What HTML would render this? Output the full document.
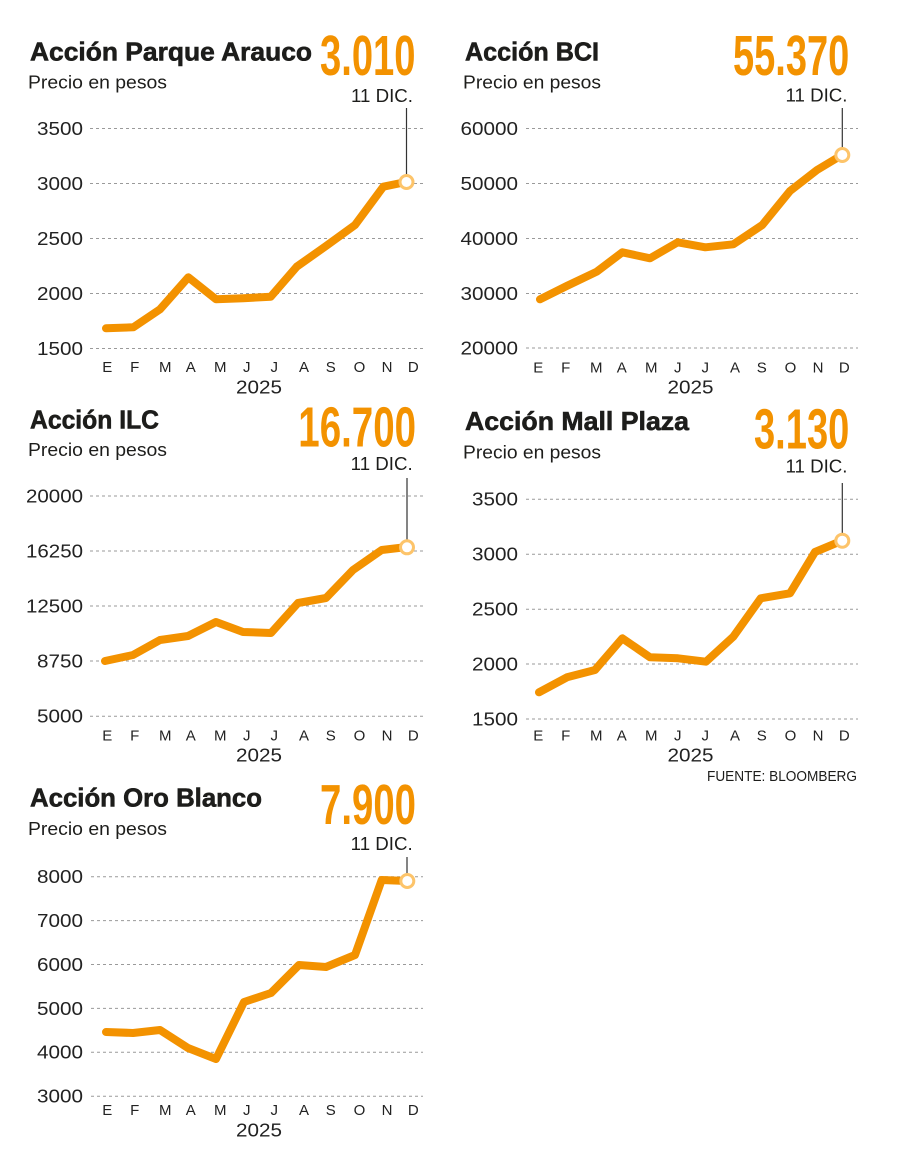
<!DOCTYPE html>
<html>
<head>
<meta charset="utf-8">
<style>
  html,body{margin:0;padding:0;background:#fff;}
  svg{display:block;}
  text{font-family:"Liberation Sans",Arial,sans-serif;fill:#1d1d1b;}
  .t{font-weight:bold;font-size:26px;stroke:#1d1d1b;stroke-width:0.6;}
  .s{font-size:18.5px;}
  .big{font-weight:bold;font-size:57px;fill:#F39200;}
  .dic{font-size:18px;}
  .tk{font-size:18px;fill:#222;}
  .mo{font-size:15px;fill:#222;}
  .yr{font-size:18px;fill:#222;}
  .g{stroke:#9a9a9a;stroke-width:1;stroke-dasharray:3,3;}
  .ln{fill:none;stroke:#F39200;stroke-width:8;stroke-linejoin:round;stroke-linecap:round;}
  .vl{stroke:#333;stroke-width:1.2;}
  .dot{fill:#fff;stroke:#FDC46A;stroke-width:3;}
</style>
</head>
<body>
<svg width="900" height="1173" viewBox="0 0 900 1173" xmlns="http://www.w3.org/2000/svg">

<!-- ============ Chart 1: Parque Arauco ============ -->
<text class="t" x="30" y="60.7" textLength="282" lengthAdjust="spacingAndGlyphs">Acción Parque Arauco</text>
<text class="s" x="28" y="88.3" textLength="139" lengthAdjust="spacingAndGlyphs">Precio en pesos</text>
<text class="big" x="320" y="75" textLength="95.5" lengthAdjust="spacingAndGlyphs">3.010</text>
<text class="dic" x="351" y="102" textLength="62" lengthAdjust="spacingAndGlyphs">11 DIC.</text>
<g>
  <line class="g" x1="90" y1="128.5" x2="423" y2="128.5"/>
  <line class="g" x1="90" y1="183.5" x2="423" y2="183.5"/>
  <line class="g" x1="90" y1="238.5" x2="423" y2="238.5"/>
  <line class="g" x1="90" y1="293.5" x2="423" y2="293.5"/>
  <line class="g" x1="90" y1="348.5" x2="423" y2="348.5"/>
  <text class="tk" x="37" y="134.9" textLength="46" lengthAdjust="spacingAndGlyphs">3500</text>
  <text class="tk" x="37" y="189.9" textLength="46" lengthAdjust="spacingAndGlyphs">3000</text>
  <text class="tk" x="37" y="244.9" textLength="46" lengthAdjust="spacingAndGlyphs">2500</text>
  <text class="tk" x="37" y="299.9" textLength="46" lengthAdjust="spacingAndGlyphs">2000</text>
  <text class="tk" x="37" y="354.9" textLength="46" lengthAdjust="spacingAndGlyphs">1500</text>
</g>
<g text-anchor="middle">
  <text class="mo" x="107.2" y="372">E</text><text class="mo" x="134.7" y="372">F</text>
  <text class="mo" x="165.3" y="372">M</text><text class="mo" x="190.7" y="372">A</text>
  <text class="mo" x="220.3" y="372">M</text><text class="mo" x="246.7" y="372">J</text>
  <text class="mo" x="274.2" y="372">J</text><text class="mo" x="304" y="372">A</text>
  <text class="mo" x="330.8" y="372">S</text><text class="mo" x="359.5" y="372">O</text>
  <text class="mo" x="387" y="372">N</text><text class="mo" x="413.3" y="372">D</text>
</g>
<text class="yr" x="236" y="393.3" textLength="46" lengthAdjust="spacingAndGlyphs">2025</text>
<line class="vl" x1="406.5" y1="108" x2="406.5" y2="176"/>
<polyline class="ln" points="106,328.3 133.3,327.3 160,309.3 188.3,277.3 216,299.3 243.3,298.3 270.7,296.7 296.7,266.7 326,246 355,225 383.3,186.7 406,182"/>
<circle class="dot" cx="406.5" cy="182" r="6.5"/>

<!-- ============ Chart 2: BCI ============ -->
<text class="t" x="465" y="60.7" textLength="134" lengthAdjust="spacingAndGlyphs">Acción BCI</text>
<text class="s" x="463" y="88.3" textLength="138" lengthAdjust="spacingAndGlyphs">Precio en pesos</text>
<text class="big" x="733" y="75" textLength="116.3" lengthAdjust="spacingAndGlyphs">55.370</text>
<text class="dic" x="785.5" y="101.7" textLength="62" lengthAdjust="spacingAndGlyphs">11 DIC.</text>
<g>
  <line class="g" x1="526" y1="128.5" x2="858" y2="128.5"/>
  <line class="g" x1="526" y1="183.5" x2="858" y2="183.5"/>
  <line class="g" x1="526" y1="238.5" x2="858" y2="238.5"/>
  <line class="g" x1="526" y1="293.5" x2="858" y2="293.5"/>
  <line class="g" x1="526" y1="348" x2="858" y2="348"/>
  <text class="tk" x="460.5" y="134.9" textLength="57.5" lengthAdjust="spacingAndGlyphs">60000</text>
  <text class="tk" x="460.5" y="189.9" textLength="57.5" lengthAdjust="spacingAndGlyphs">50000</text>
  <text class="tk" x="460.5" y="244.9" textLength="57.5" lengthAdjust="spacingAndGlyphs">40000</text>
  <text class="tk" x="460.5" y="299.9" textLength="57.5" lengthAdjust="spacingAndGlyphs">30000</text>
  <text class="tk" x="460.5" y="354.4" textLength="57.5" lengthAdjust="spacingAndGlyphs">20000</text>
</g>
<g text-anchor="middle">
  <text class="mo" x="538.2" y="372.3">E</text><text class="mo" x="565.7" y="372.3">F</text>
  <text class="mo" x="596.3" y="372.3">M</text><text class="mo" x="621.7" y="372.3">A</text>
  <text class="mo" x="651.3" y="372.3">M</text><text class="mo" x="677.7" y="372.3">J</text>
  <text class="mo" x="705.2" y="372.3">J</text><text class="mo" x="735" y="372.3">A</text>
  <text class="mo" x="761.8" y="372.3">S</text><text class="mo" x="790.5" y="372.3">O</text>
  <text class="mo" x="818" y="372.3">N</text><text class="mo" x="844.3" y="372.3">D</text>
</g>
<text class="yr" x="667.5" y="393.3" textLength="46" lengthAdjust="spacingAndGlyphs">2025</text>
<line class="vl" x1="842.3" y1="108" x2="842.3" y2="149"/>
<polyline class="ln" points="540,299.3 566.7,286 596.7,271.7 622.3,252.3 650,258.3 677.7,242.3 705.3,247.3 733.3,244.3 762.3,225 790,191 817,170 842,155"/>
<circle class="dot" cx="842.3" cy="155" r="6.5"/>

<!-- ============ Chart 3: ILC ============ -->
<text class="t" x="30" y="428.3" textLength="129" lengthAdjust="spacingAndGlyphs">Acción ILC</text>
<text class="s" x="28" y="456" textLength="139" lengthAdjust="spacingAndGlyphs">Precio en pesos</text>
<text class="big" x="298.3" y="446.7" textLength="117.7" lengthAdjust="spacingAndGlyphs">16.700</text>
<text class="dic" x="350.7" y="470" textLength="62" lengthAdjust="spacingAndGlyphs">11 DIC.</text>
<g>
  <line class="g" x1="90" y1="496" x2="423" y2="496"/>
  <line class="g" x1="90" y1="551" x2="423" y2="551"/>
  <line class="g" x1="90" y1="606" x2="423" y2="606"/>
  <line class="g" x1="90" y1="661" x2="423" y2="661"/>
  <line class="g" x1="90" y1="716.3" x2="423" y2="716.3"/>
  <text class="tk" x="26" y="502.4" textLength="57" lengthAdjust="spacingAndGlyphs">20000</text>
  <text class="tk" x="26" y="557.4" textLength="57" lengthAdjust="spacingAndGlyphs">16250</text>
  <text class="tk" x="26" y="612.4" textLength="57" lengthAdjust="spacingAndGlyphs">12500</text>
  <text class="tk" x="37" y="667.4" textLength="46" lengthAdjust="spacingAndGlyphs">8750</text>
  <text class="tk" x="37" y="722.7" textLength="46" lengthAdjust="spacingAndGlyphs">5000</text>
</g>
<g text-anchor="middle">
  <text class="mo" x="107.2" y="740.7">E</text><text class="mo" x="134.7" y="740.7">F</text>
  <text class="mo" x="165.3" y="740.7">M</text><text class="mo" x="190.7" y="740.7">A</text>
  <text class="mo" x="220.3" y="740.7">M</text><text class="mo" x="246.7" y="740.7">J</text>
  <text class="mo" x="274.2" y="740.7">J</text><text class="mo" x="304" y="740.7">A</text>
  <text class="mo" x="330.8" y="740.7">S</text><text class="mo" x="359.5" y="740.7">O</text>
  <text class="mo" x="387" y="740.7">N</text><text class="mo" x="413.3" y="740.7">D</text>
</g>
<text class="yr" x="236" y="761.7" textLength="46" lengthAdjust="spacingAndGlyphs">2025</text>
<line class="vl" x1="407" y1="478" x2="407" y2="541"/>
<polyline class="ln" points="105,661 133,655 160,640 188,636 216,622 243,632 271,633 298,603 326,598 353,570 381.7,550 407,547"/>
<circle class="dot" cx="407" cy="547.3" r="6.5"/>

<!-- ============ Chart 4: Mall Plaza ============ -->
<text class="t" x="465" y="430" textLength="224" lengthAdjust="spacingAndGlyphs">Acción Mall Plaza</text>
<text class="s" x="463" y="458.3" textLength="138" lengthAdjust="spacingAndGlyphs">Precio en pesos</text>
<text class="big" x="754" y="448.3" textLength="95.3" lengthAdjust="spacingAndGlyphs">3.130</text>
<text class="dic" x="785.5" y="472.7" textLength="62" lengthAdjust="spacingAndGlyphs">11 DIC.</text>
<g>
  <line class="g" x1="526" y1="499.3" x2="858" y2="499.3"/>
  <line class="g" x1="526" y1="554.2" x2="858" y2="554.2"/>
  <line class="g" x1="526" y1="609.3" x2="858" y2="609.3"/>
  <line class="g" x1="526" y1="664" x2="858" y2="664"/>
  <line class="g" x1="526" y1="719" x2="858" y2="719"/>
  <text class="tk" x="472" y="505.7" textLength="46" lengthAdjust="spacingAndGlyphs">3500</text>
  <text class="tk" x="472" y="560.6" textLength="46" lengthAdjust="spacingAndGlyphs">3000</text>
  <text class="tk" x="472" y="615.7" textLength="46" lengthAdjust="spacingAndGlyphs">2500</text>
  <text class="tk" x="472" y="670.4" textLength="46" lengthAdjust="spacingAndGlyphs">2000</text>
  <text class="tk" x="472" y="725.4" textLength="46" lengthAdjust="spacingAndGlyphs">1500</text>
</g>
<g text-anchor="middle">
  <text class="mo" x="538.2" y="740.7">E</text><text class="mo" x="565.7" y="740.7">F</text>
  <text class="mo" x="596.3" y="740.7">M</text><text class="mo" x="621.7" y="740.7">A</text>
  <text class="mo" x="651.3" y="740.7">M</text><text class="mo" x="677.7" y="740.7">J</text>
  <text class="mo" x="705.2" y="740.7">J</text><text class="mo" x="735" y="740.7">A</text>
  <text class="mo" x="761.8" y="740.7">S</text><text class="mo" x="790.5" y="740.7">O</text>
  <text class="mo" x="818" y="740.7">N</text><text class="mo" x="844.3" y="740.7">D</text>
</g>
<text class="yr" x="667.5" y="761.7" textLength="46" lengthAdjust="spacingAndGlyphs">2025</text>
<text x="707" y="781" style="font-size:14.5px;fill:#1d1d1b" textLength="150" lengthAdjust="spacingAndGlyphs">FUENTE: BLOOMBERG</text>
<line class="vl" x1="842.3" y1="483" x2="842.3" y2="534"/>
<polyline class="ln" points="539,692.3 567,677.3 595,670 622.3,638.3 650,657.3 678,658.3 706,661.7 733.3,636.7 760.7,598.3 790,593.3 815,552 842,540.7"/>
<circle class="dot" cx="842.3" cy="540.7" r="6.5"/>

<!-- ============ Chart 5: Oro Blanco ============ -->
<text class="t" x="30" y="806.7" textLength="232" lengthAdjust="spacingAndGlyphs">Acción Oro Blanco</text>
<text class="s" x="28" y="835" textLength="139" lengthAdjust="spacingAndGlyphs">Precio en pesos</text>
<text class="big" x="320" y="824" textLength="96" lengthAdjust="spacingAndGlyphs">7.900</text>
<text class="dic" x="350.7" y="850" textLength="62" lengthAdjust="spacingAndGlyphs">11 DIC.</text>
<g>
  <line class="g" x1="91" y1="876.7" x2="423" y2="876.7"/>
  <line class="g" x1="91" y1="920.6" x2="423" y2="920.6"/>
  <line class="g" x1="91" y1="964.5" x2="423" y2="964.5"/>
  <line class="g" x1="91" y1="1008.4" x2="423" y2="1008.4"/>
  <line class="g" x1="91" y1="1052.3" x2="423" y2="1052.3"/>
  <line class="g" x1="91" y1="1096.2" x2="423" y2="1096.2"/>
  <text class="tk" x="37" y="883.1" textLength="46" lengthAdjust="spacingAndGlyphs">8000</text>
  <text class="tk" x="37" y="927" textLength="46" lengthAdjust="spacingAndGlyphs">7000</text>
  <text class="tk" x="37" y="970.9" textLength="46" lengthAdjust="spacingAndGlyphs">6000</text>
  <text class="tk" x="37" y="1014.8" textLength="46" lengthAdjust="spacingAndGlyphs">5000</text>
  <text class="tk" x="37" y="1058.7" textLength="46" lengthAdjust="spacingAndGlyphs">4000</text>
  <text class="tk" x="37" y="1102.6" textLength="46" lengthAdjust="spacingAndGlyphs">3000</text>
</g>
<g text-anchor="middle">
  <text class="mo" x="107.2" y="1115">E</text><text class="mo" x="134.7" y="1115">F</text>
  <text class="mo" x="165.3" y="1115">M</text><text class="mo" x="190.7" y="1115">A</text>
  <text class="mo" x="220.3" y="1115">M</text><text class="mo" x="246.7" y="1115">J</text>
  <text class="mo" x="274.2" y="1115">J</text><text class="mo" x="304" y="1115">A</text>
  <text class="mo" x="330.8" y="1115">S</text><text class="mo" x="359.5" y="1115">O</text>
  <text class="mo" x="387" y="1115">N</text><text class="mo" x="413.3" y="1115">D</text>
</g>
<text class="yr" x="236" y="1136.7" textLength="46" lengthAdjust="spacingAndGlyphs">2025</text>
<line class="vl" x1="407" y1="857" x2="407" y2="875"/>
<polyline class="ln" points="106,1032 133,1033 160,1030 188,1048 216,1059 244,1002 271,993 299,965 326,967 355,955 381.7,880 407,881"/>
<circle class="dot" cx="407.3" cy="881" r="6.5"/>

</svg>
</body>
</html>
